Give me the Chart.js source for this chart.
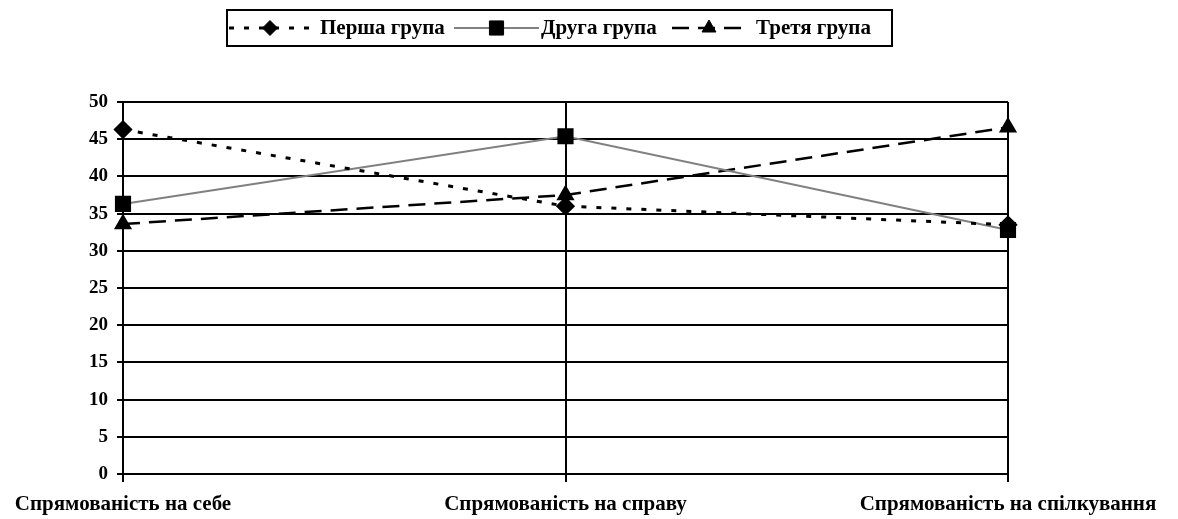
<!DOCTYPE html>
<html>
<head>
<meta charset="utf-8">
<script src="https://cdn.jsdelivr.net/npm/chart.js@4/dist/chart.umd.min.js"></script>
<style>
  html, body { margin: 0; padding: 0; background: #fff; }
  #wrap { width: 1178px; height: 519px; }
</style>
</head>
<body>
<div id="wrap"><canvas id="grafik"></canvas></div>
<script>
// дані
var kategorii = ['Спрямованість на себе', 'Спрямованість на справу', 'Спрямованість на спілкування'];
var nazvy = ['Перша група', 'Друга група', 'Третя група'];
var persha = [46.3, 36.0, 33.5];
var druha = [36.3, 45.4, 32.8];
var tretia = [33.6, 37.5, 46.6];
var yTicks = [0, 5, 10, 15, 20, 25, 30, 35, 40, 45, 50];

var simya = '"Liberation Serif", "Times New Roman", serif';

// легенда в рамці зверху: зразок лінії з маркером, потім підпис
var legendaPlugin = {
  id: 'legenda',
  afterDraw: function(chart) {
    var ctx = chart.ctx;
    var zrazky = [[229, 311, 320], [454, 539, 541], [672, 746, 756]];
    var y = 28;
    ctx.save();
    ctx.lineWidth = 2;
    ctx.strokeStyle = '#000';
    ctx.setLineDash([]);
    ctx.strokeRect(227, 10, 665, 36);
    ctx.font = 'bold 21px ' + simya;
    ctx.textBaseline = 'middle';
    chart.data.datasets.forEach(function(ds, i) {
      var z = zrazky[i];
      ctx.beginPath();
      ctx.strokeStyle = ds.borderColor;
      ctx.lineWidth = ds.borderWidth;
      ctx.setLineDash(ds.borderDash || []);
      ctx.moveTo(z[0], y);
      ctx.lineTo(z[1], y);
      ctx.stroke();
      ctx.setLineDash([]);
      ctx.fillStyle = '#000';
      ctx.strokeStyle = '#000';
      ctx.lineWidth = 1;
      Chart.helpers.drawPoint(ctx, {
        pointStyle: ds.pointStyle,
        radius: ds.pointRadius,
        borderWidth: 1
      }, (z[0] + z[1]) / 2, y);
      ctx.fillStyle = '#000';
      ctx.fillText(ds.label, z[2], y + 1);
    });
    ctx.restore();
  }
};

var ctxGrafik = document.getElementById('grafik').getContext('2d');

var config = {
  type: 'line',
  data: {
    labels: kategorii,
    datasets: [{
      label: nazvy[0],
      data: persha,
      borderColor: '#000',
      borderWidth: 3,
      borderDash: [5, 10],
      pointStyle: 'rectRot',
      pointRadius: 7.5,
      pointBackgroundColor: '#000',
      pointBorderColor: '#000',
      fill: false,
      tension: 0
    }, {
      label: nazvy[1],
      data: druha,
      borderColor: '#808080',
      borderWidth: 2,
      pointStyle: 'rect',
      pointRadius: 10,
      pointBackgroundColor: '#000',
      pointBorderColor: '#000',
      fill: false,
      tension: 0
    }, {
      label: nazvy[2],
      data: tretia,
      borderColor: '#000',
      borderWidth: 2.5,
      borderDash: [17, 9],
      pointStyle: 'triangle',
      pointRadius: 8,
      pointBackgroundColor: '#000',
      pointBorderColor: '#000',
      fill: false,
      tension: 0
    }]
  },
  options: {
    responsive: true,
    maintainAspectRatio: false,
    animation: false,
    layout: { padding: { top: 102, right: 170, left: 0, bottom: 0 } },
    plugins: {
      legend: { display: false },
      tooltip: { enabled: false }
    },
    elements: { point: { borderWidth: 1 } },
    scales: {
      x: {
        offset: false,
        grid: { color: '#000', lineWidth: 2, tickLength: 8 },
        border: { color: '#000', width: 2 },
        ticks: {
          color: '#000',
          font: { family: simya, size: 21, weight: 'bold' },
          maxRotation: 0,
          autoSkip: false,
          padding: 10
        },
        afterFit: function(scale) { scale.height = 45; }
      },
      y: {
        min: 0,
        max: 50,
        afterBuildTicks: function(scale) {
          scale.ticks = yTicks.map(function(v) { return { value: v }; });
        },
        grid: { color: '#000', lineWidth: 2, tickLength: 6 },
        border: { color: '#000', width: 2 },
        ticks: {
          color: '#000',
          font: { family: simya, size: 19, weight: 'bold' },
          padding: 9
        },
        afterFit: function(scale) { scale.width = 123; }
      }
    }
  },
  plugins: [legendaPlugin]
};

var grafik = new Chart(ctxGrafik, config);
</script>
</body>
</html>
